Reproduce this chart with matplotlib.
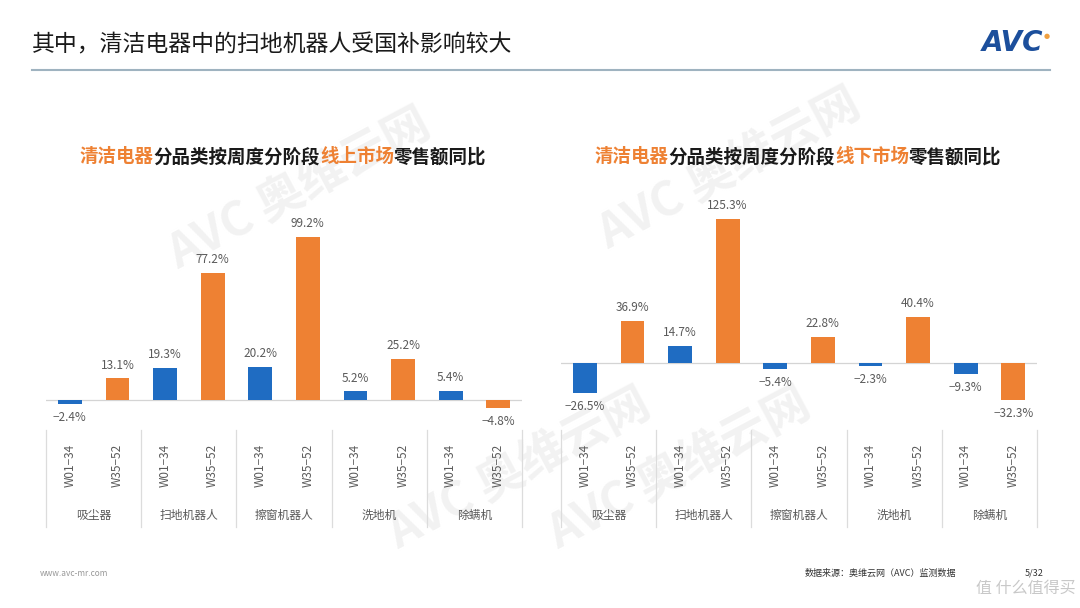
import matplotlib
matplotlib.use('Agg')
import matplotlib.pyplot as plt
import matplotlib.transforms as mtransforms
from matplotlib.offsetbox import TextArea, HPacker, AnnotationBbox

plt.rcParams['font.family'] = ['Noto Sans CJK SC', 'DejaVu Sans']

# data
categories = ['吸尘器', '扫地机器人', '擦窗机器人', '洗地机', '除螨机']
periods = ['W01-34', 'W35-52']
online_w01 = [-2.4, 19.3, 20.2, 5.2, 5.4]
online_w35 = [13.1, 77.2, 99.2, 25.2, -4.8]
offline_w01 = [-26.5, 14.7, -5.4, -2.3, -9.3]
offline_w35 = [36.9, 125.3, 22.8, 40.4, -32.3]

BLUE = '#1f6cc2'
ORANGE = '#ee8133'
GREY = '#5a5a5a'
W, H = 1080, 608

fig = plt.figure(figsize=(10.8, 6.08), dpi=100)


def fx(x):
    return x / W


def fy(y):
    return 1 - y / H


# faint watermarks, kept behind everything
for (x, y) in [(300, 190), (730, 170), (520, 470), (680, 470)]:
    fig.text(fx(x), fy(y), 'AVC 奥维云网', fontsize=34, fontweight='bold',
             color='#f2f2f2', rotation=28, ha='center', va='center', zorder=-5)

# header
fig.text(fx(32), fy(45), '其中，清洁电器中的扫地机器人受国补影响较大', fontsize=16.5,
         color='#1a1a1a', ha='left', va='center')
fig.add_artist(plt.Line2D([fx(32), fx(1050)], [fy(70), fy(70)], color='#9fb3c0', lw=1.5))
fig.text(fx(1013), fy(43), 'AVC', fontsize=20, fontweight='bold', fontstyle='italic',
         color='#1c4f9c', ha='center', va='center', family='DejaVu Sans')
fig.text(fx(1047), fy(36), '●', fontsize=5, color='#f0a040', ha='center', va='center',
         family='DejaVu Sans')

# footer
fig.text(fx(40), fy(574), 'www.avc-mr.com', fontsize=6, color='#999999', va='center')
fig.text(fx(805), fy(573), '数据来源：奥维云网（AVC）监测数据', fontsize=6.5, color='#333333', va='center')
fig.text(fx(1025), fy(573), '5/32', fontsize=6.5, color='#333333', va='center')
fig.text(fx(1076), fy(588), '值 什么值得买', fontsize=11.5, color='#c8c8c8', ha='right', va='center')


def chart_title(cx, cy, market):
    parts = [('清洁电器', ORANGE), ('分品类按周度分阶段', '#1a1a1a'),
             (market, ORANGE), ('零售额同比', '#1a1a1a')]
    boxes = [TextArea(t, textprops=dict(color=c, fontsize=13.3, fontweight='bold'))
             for t, c in parts]
    pack = HPacker(children=boxes, align='center', pad=0, sep=0)
    ab = AnnotationBbox(pack, (fx(cx), fy(cy)), xycoords='figure fraction',
                        frameon=False, box_alignment=(0.5, 0.5))
    fig.add_artist(ab)


def draw_panel(x0, x1, zero_y, px_per_pct, w01, w35):
    top, bottom = 180, 420
    ax = fig.add_axes([fx(x0), fy(bottom), (x1 - x0) / W, (bottom - top) / H])
    ax.set_ylim(-(bottom - zero_y) / px_per_pct, (zero_y - top) / px_per_pct)
    ax.set_xlim(0, 2 * len(categories))
    ax.axis('off')
    ax.axhline(0, color='#d4d4d4', lw=0.9, zorder=1)

    xs1 = [2 * i + 0.5 for i in range(len(categories))]
    xs2 = [2 * i + 1.5 for i in range(len(categories))]
    ax.bar(xs1, w01, width=0.5, color=BLUE, zorder=2)
    ax.bar(xs2, w35, width=0.5, color=ORANGE, zorder=2)

    for xs, vals in [(xs1, w01), (xs2, w35)]:
        for x, v in zip(xs, vals):
            off = 5 if v >= 0 else -5
            ax.annotate(f'{v:.1f}%'.replace('-', '−'), (x, v), xytext=(0, off),
                        textcoords='offset points', ha='center',
                        va='bottom' if v >= 0 else 'top', fontsize=8.5, color=GREY)

    trans = mtransforms.blended_transform_factory(ax.transData, fig.transFigure)
    for i, cat in enumerate(categories):
        for j, p in enumerate(periods):
            ax.text(2 * i + 0.5 + j, fy(465), p.replace('-', '−'), rotation=90, ha='center',
                    va='center', fontsize=8.5, color=GREY, transform=trans)
        ax.text(2 * i + 1, fy(515), cat, ha='center', va='center', fontsize=8.5,
                color=GREY, transform=trans)
    for k in range(len(categories) + 1):
        ax.plot([2 * k, 2 * k], [fy(430), fy(527)], color='#dcdcdc', lw=0.9,
                transform=trans, clip_on=False)
    return ax


draw_panel(46, 522, 400, 1.643, online_w01, online_w35)
draw_panel(561, 1037, 363, 1.15, offline_w01, offline_w35)
chart_title(283, 157, '线上市场')
chart_title(798, 157, '线下市场')

fig.savefig('out.png', dpi=100)
